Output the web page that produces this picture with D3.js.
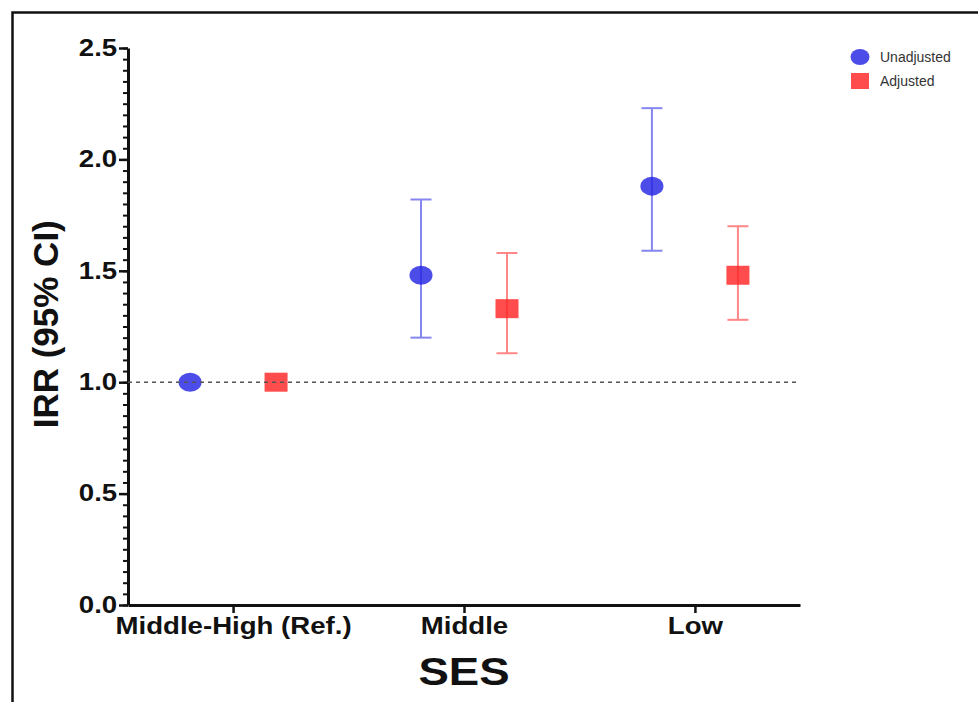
<!DOCTYPE html>
<html>
<head>
<meta charset="utf-8">
<script src="https://cdn.jsdelivr.net/npm/d3@7"></script>
<style>
  body { margin: 0; background: #fff; }
  svg { font-family: "Liberation Sans", Arial, sans-serif; }
</style>
</head>
<body>
<div id="chart"></div>
<script>
const categories = ["Middle-High (Ref.)", "Middle", "Low"];
const seriesNames = ["Unadjusted", "Adjusted"];
const unadjusted = [1.00, 1.48, 1.88];
const unadjustedLow = [1.00, 1.20, 1.59];
const unadjustedHigh = [1.00, 1.82, 2.23];
const adjusted = [1.00, 1.33, 1.48];
const adjustedLow = [1.00, 1.13, 1.28];
const adjustedHigh = [1.00, 1.58, 1.70];
const yTicks = [0, 0.5, 1.0, 1.5, 2.0, 2.5];

const width = 978, height = 702;
const margin = { top: 48, right: 178, bottom: 97, left: 128 };
const w = width - margin.left - margin.right;
const h = height - margin.top - margin.bottom;

const blue = "#2424e4";
const red = "#ff2626";
const stretch = "scale(1.2,1)";

const svg = d3.select("#chart")
  .append("svg")
  .attr("width", width)
  .attr("height", height);

// outer frame
svg.append("rect")
  .attr("x", 12.5)
  .attr("y", 12.5)
  .attr("width", width + 10)
  .attr("height", height + 10)
  .attr("fill", "none")
  .attr("stroke", "#111")
  .attr("stroke-width", 2.5);

const g = svg.append("g")
  .attr("transform", `translate(${margin.left},${margin.top})`);

const xScale = d3.scalePoint()
  .domain(categories)
  .range([0, w])
  .padding(0.455);

const yScale = d3.scaleLinear()
  .domain([0, 2.5])
  .range([h, 0]);

const offset = 43;

// minor y ticks
const minorTicks = d3.range(0, 2.5001, 0.05);
g.append("g")
  .attr("class", "y-minor")
  .call(d3.axisLeft(yScale).tickValues(minorTicks).tickSize(5).tickFormat(""))
  .call(a => a.select(".domain").remove())
  .selectAll("line")
  .attr("stroke", "#111")
  .attr("stroke-width", 2);

// major y axis
const yAxis = g.append("g")
  .attr("class", "y-axis")
  .call(d3.axisLeft(yScale).tickValues(yTicks).tickSize(9).tickSizeOuter(0).tickFormat(d3.format(".1f")));
yAxis.select(".domain").attr("stroke", "#111").attr("stroke-width", 3);
yAxis.selectAll(".tick line").attr("stroke", "#111").attr("stroke-width", 2.5);
yAxis.selectAll(".tick text")
  .attr("x", -9)
  .attr("transform", stretch)
  .attr("fill", "#111")
  .style("font-size", "23px")
  .style("font-weight", "bold");

// x axis
const xAxis = g.append("g")
  .attr("class", "x-axis")
  .attr("transform", `translate(0,${h})`)
  .call(d3.axisBottom(xScale).tickSize(8).tickSizeOuter(0));
xAxis.select(".domain").attr("stroke", "#111").attr("stroke-width", 3);
xAxis.selectAll(".tick line").attr("stroke", "#111").attr("stroke-width", 2.5);
xAxis.selectAll(".tick text")
  .attr("y", 13)
  .attr("transform", stretch)
  .attr("fill", "#111")
  .style("font-size", "23px")
  .style("font-weight", "bold");

// axis titles
g.append("text")
  .attr("transform", "rotate(-90)")
  .attr("x", -(yScale(1.26)))
  .attr("y", -70)
  .style("text-anchor", "middle")
  .style("font-size", "35px")
  .style("font-weight", "bold")
  .attr("fill", "#111")
  .text("IRR (95% CI)");

g.append("g")
  .attr("transform", `translate(${xScale("Middle")},${h + 80})`)
  .append("text")
  .attr("transform", stretch)
  .style("text-anchor", "middle")
  .style("font-size", "38px")
  .style("font-weight", "bold")
  .attr("fill", "#111")
  .text("SES");

// error bars
function errorBars(vals, lo, hi, dx, color) {
  const rows = categories.map((c, i) => ({ c, v: vals[i], lo: lo[i], hi: hi[i] }))
    .filter(d => d.hi > d.lo);
  const eb = g.append("g").attr("stroke", color).attr("stroke-width", 2).attr("opacity", 0.55);
  eb.selectAll(".stem").data(rows).enter().append("line")
    .attr("x1", d => xScale(d.c) + dx).attr("x2", d => xScale(d.c) + dx)
    .attr("y1", d => yScale(d.lo)).attr("y2", d => yScale(d.hi));
  ["lo", "hi"].forEach(k => {
    eb.selectAll(".cap-" + k).data(rows).enter().append("line")
      .attr("x1", d => xScale(d.c) + dx - 10.5).attr("x2", d => xScale(d.c) + dx + 10.5)
      .attr("y1", d => yScale(d[k])).attr("y2", d => yScale(d[k]));
  });
}
errorBars(unadjusted, unadjustedLow, unadjustedHigh, -offset, blue);
errorBars(adjusted, adjustedLow, adjustedHigh, offset, red);

// markers
g.selectAll(".unadj").data(unadjusted).enter().append("ellipse")
  .attr("cx", (d, i) => xScale(categories[i]) - offset)
  .attr("cy", d => yScale(d))
  .attr("rx", 11.5)
  .attr("ry", 9.5)
  .attr("fill", blue)
  .attr("opacity", 0.82);

g.selectAll(".adj").data(adjusted).enter().append("rect")
  .attr("x", (d, i) => xScale(categories[i]) + offset - 11.5)
  .attr("y", d => yScale(d) - 9.5)
  .attr("width", 23)
  .attr("height", 19)
  .attr("fill", red)
  .attr("opacity", 0.82);

// reference line at 1.0
g.append("line")
  .attr("x1", 0).attr("x2", w)
  .attr("y1", yScale(1)).attr("y2", yScale(1))
  .attr("stroke", "#555")
  .attr("stroke-width", 1.6)
  .attr("stroke-dasharray", "4,4");

// legend
const legend = svg.append("g").attr("transform", "translate(860,57)");
seriesNames.forEach((name, i) => {
  const row = legend.append("g").attr("transform", `translate(0,${i * 24})`);
  if (i === 0) {
    row.append("ellipse").attr("rx", 9.5).attr("ry", 8).attr("fill", blue).attr("opacity", 0.82);
  } else {
    row.append("rect").attr("x", -9).attr("y", -8).attr("width", 18).attr("height", 16)
      .attr("fill", red).attr("opacity", 0.82);
  }
  row.append("text")
    .attr("x", 20)
    .attr("y", 5)
    .style("font-size", "14px")
    .attr("fill", "#333")
    .text(name);
});
</script>
</body>
</html>
